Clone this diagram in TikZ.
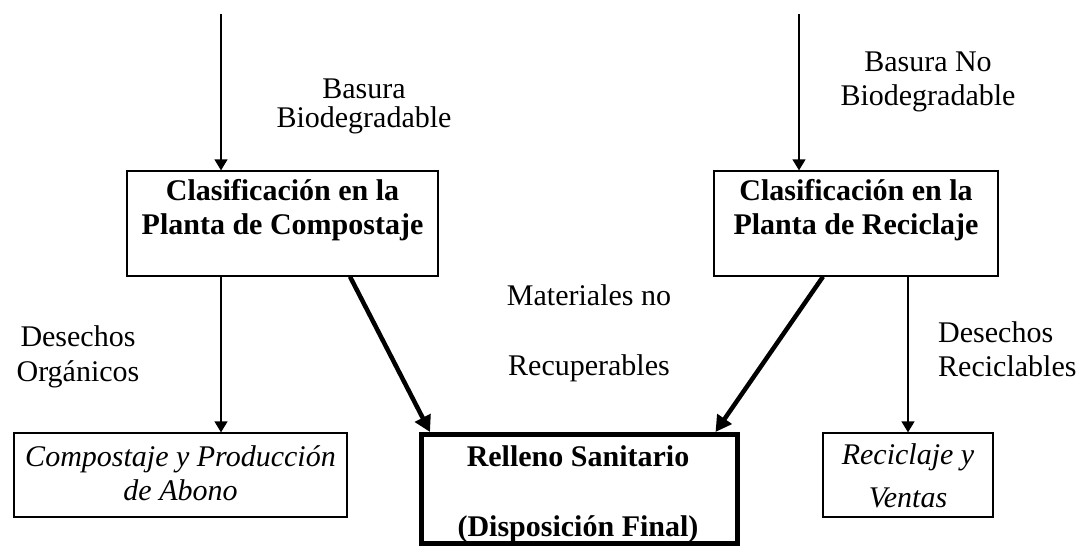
\documentclass[tikz,border=0pt]{standalone}
\usepackage{fontspec}
\setmainfont{Liberation Serif}
\usetikzlibrary{arrows.meta}
\begin{document}
\begin{tikzpicture}[x=1pt,y=-1pt,
  box/.style={draw, line width=1.3pt, inner sep=0pt},
  heavybox/.style={draw, line width=5pt, inner sep=0pt},
  lbl/.style={font=\fontsize{30}{34.5}\selectfont, align=center, inner sep=0pt},
  boldlbl/.style={lbl, font=\fontsize{30}{34.5}\selectfont\bfseries},
  itlbl/.style={lbl, font=\fontsize{30}{34.5}\selectfont\itshape},
  thinarrow/.style={line width=1.3pt, -{Triangle[length=11pt,width=13pt]}},
  heavyarrow/.style={line width=4.5pt, -{Triangle[length=16pt,width=17pt]}}
]
\path[fill=white, use as bounding box] (0,0) rectangle (1083,546);

% boxes
\node[box, minimum width=311pt, minimum height=105pt] (cc) at (282.5,223.5) {};
\node[boldlbl] (cct) at (282.5,210) {Clasificación en la\\Planta de Compostaje};
\node[box, minimum width=284pt, minimum height=105pt] (cr) at (856,223.5) {};
\node[boldlbl] (crt) at (856,210) {Clasificación en la\\Planta de Reciclaje};

\node[box, minimum width=333pt, minimum height=84pt] (cp) at (180.5,475) {};
\node[itlbl] (cpt) at (180.5,473) {Compostaje y Producción\\de Abono};

\node[heavybox, minimum width=316pt, minimum height=109pt] (rs) at (579.5,489) {};
\node[boldlbl, font=\fontsize{30}{70}\selectfont\bfseries] (rst) at (578,494) {Relleno Sanitario\\(Disposición Final)};

\node[box, minimum width=170pt, minimum height=84pt] (rv) at (908,475) {};
\node[itlbl, font=\fontsize{30}{43}\selectfont\itshape] (rvt) at (908,476) {Reciclaje y\\Ventas};

% labels
\node[lbl, font=\fontsize{30}{29}\selectfont] (lb1) at (364,106.5) {Basura\\Biodegradable};
\node[lbl] (lb2) at (928,81.8) {Basura No\\Biodegradable};
\node[lbl, font=\fontsize{30}{70}\selectfont] (lb3) at (589,333) {Materiales no\\Recuperables};
\node[lbl] (lb4) at (78,357) {Desechos\\Orgánicos};
\node[lbl, align=left, anchor=west] (lb5) at (938,349) {Desechos\\Reciclables};

% connectors
\coordinate (s1) at (221,14);
\coordinate (s2) at (799,14);
\draw[thinarrow] (s1) -- (s1 |- cc.north);
\draw[thinarrow] (s2) -- (s2 |- cr.north);
\draw[thinarrow] (s1 |- cc.south) -- (s1 |- cp.north);
\draw[thinarrow] (cr.south -| rv.north) -- (rv.north);
\draw[heavyarrow] ([xshift=67.5pt]cc.south) -- ([xshift=-149.5pt]rs.north);
\draw[heavyarrow] ([xshift=-33pt]cr.south) -- ([xshift=136pt]rs.north);
\end{tikzpicture}
\end{document}
